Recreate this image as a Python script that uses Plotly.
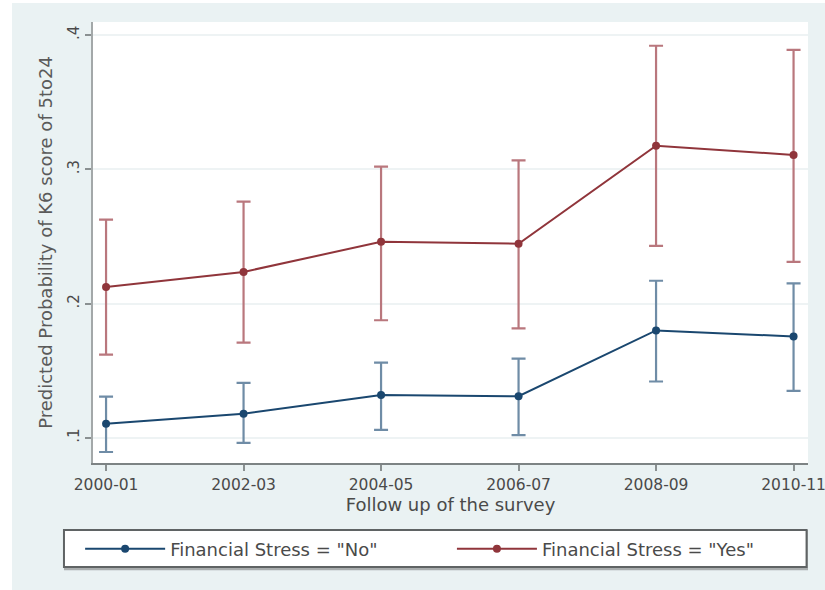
import plotly.graph_objects as go

# Survey waves (follow-up periods)
waves = ["2000-01", "2002-03", "2004-05", "2006-07", "2008-09", "2010-11"]

# Predicted probabilities with 95% confidence bounds
no_pred = [0.1105, 0.1180, 0.1320, 0.1310, 0.1800, 0.1755]
no_low = [0.0895, 0.0963, 0.1060, 0.1020, 0.1420, 0.1350]
no_high = [0.1307, 0.1410, 0.1560, 0.1590, 0.2170, 0.2150]

yes_pred = [0.2124, 0.2236, 0.2460, 0.2446, 0.3176, 0.3107]
yes_low = [0.1620, 0.1710, 0.1876, 0.1816, 0.2430, 0.2310]
yes_high = [0.2625, 0.2760, 0.3020, 0.3067, 0.3920, 0.3890]

y_ticks = [0.1, 0.2, 0.3, 0.4]
y_tick_text = [".1", ".2", ".3", ".4"]

BLUE = "#1a476f"
BLUE_CI = "#6f8ca6"
RED = "#90353b"
RED_CI = "#b9777d"
FONT = "DejaVu Sans"
TEXT = "#4a4a4a"

x_idx = list(range(len(waves)))


def series(name, pred, low, high, color, ci_color, legend_id):
    return go.Scatter(
        x=x_idx,
        y=pred,
        name=name,
        legend=legend_id,
        mode="lines+markers",
        line=dict(color=color, width=2),
        marker=dict(color=color, size=8, symbol="circle"),
        error_y=dict(
            type="data",
            symmetric=False,
            array=[h - p for h, p in zip(high, pred)],
            arrayminus=[p - l for p, l in zip(pred, low)],
            color=ci_color,
            thickness=2.2,
            width=7,
        ),
    )


fig = go.Figure()
fig.add_trace(series('Financial Stress = "No"', no_pred, no_low, no_high, BLUE, BLUE_CI, "legend"))
fig.add_trace(series('Financial Stress = "Yes"', yes_pred, yes_low, yes_high, RED, RED_CI, "legend2"))

# Pale graph region, with the white plot area laid over it
fig.add_shape(
    type="rect", xref="paper", yref="paper",
    x0=-0.1133, x1=1.03, y0=-0.29, y1=1.043,
    fillcolor="#eaf2f3", line=dict(width=0), layer="below",
)
fig.add_shape(
    type="rect", xref="paper", yref="paper",
    x0=0, x1=1, y0=0, y1=1,
    fillcolor="white", line=dict(width=0), layer="below",
)
# Legend frame with a soft lower shadow
fig.add_shape(
    type="rect", xref="paper", yref="paper",
    x0=-0.0406, x1=1.0, y0=-0.243, y1=-0.152,
    fillcolor="#a9adae", line=dict(width=0), layer="below",
)
fig.add_shape(
    type="rect", xref="paper", yref="paper",
    x0=-0.0406, x1=0.998, y0=-0.236, y1=-0.152,
    fillcolor="white", line=dict(color="#5f6364", width=2), layer="below",
)

legend_common = dict(
    orientation="h",
    y=-0.195,
    xanchor="left",
    yanchor="middle",
    bgcolor="rgba(0,0,0,0)",
    font=dict(family=FONT, size=18, color=TEXT),
    itemwidth=80,
)

fig.update_layout(
    width=825,
    height=590,
    margin=dict(l=93, r=17, t=22, b=127, autoexpand=False),
    paper_bgcolor="white",
    plot_bgcolor="white",
    font=dict(family=FONT, size=14, color=TEXT),
    showlegend=True,
    legend=dict(x=-0.018, **legend_common),
    legend2=dict(x=0.502, **legend_common),
    xaxis=dict(
        range=[-0.095, 5.105],
        tickmode="array",
        tickvals=x_idx,
        ticktext=waves,
        showgrid=False,
        zeroline=False,
        showline=True,
        linecolor="#7d8384",
        linewidth=2,
        ticks="outside",
        ticklen=6,
        tickwidth=2,
        tickcolor="#8a9091",
        ticklabeloverflow="allow",
        automargin=False,
        tickfont=dict(size=15.5, color=TEXT),
        title=dict(text="Follow up of the survey", font=dict(size=18, color=TEXT), standoff=2),
    ),
    yaxis=dict(
        range=[0.0813, 0.4097],
        tickmode="array",
        tickvals=y_ticks,
        ticktext=y_tick_text,
        tickangle=-90,
        showgrid=True,
        gridcolor="#eef3f4",
        gridwidth=2,
        zeroline=False,
        showline=True,
        linecolor="#a3a8a9",
        linewidth=2,
        ticks="outside",
        ticklen=6,
        tickwidth=2,
        tickcolor="#8a9091",
        automargin=False,
        tickfont=dict(size=15, color=TEXT),
        title=dict(
            text="Predicted Probability of K6 score of 5to24",
            font=dict(size=18, color="#5a5a5a"),
            standoff=8,
        ),
    ),
)

fig.write_html("out.html")
